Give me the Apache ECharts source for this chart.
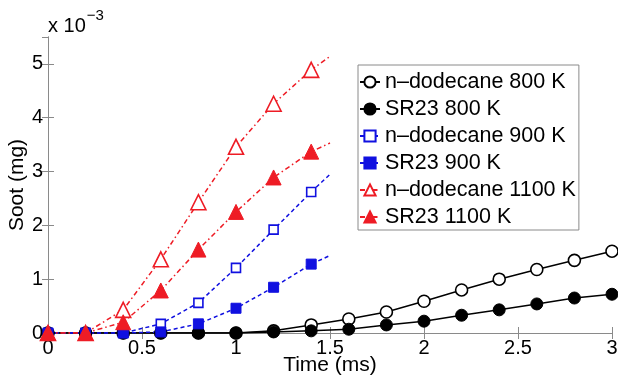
<!DOCTYPE html>
<html>
<head>
<meta charset="utf-8">
<script src="https://cdn.jsdelivr.net/npm/echarts@6/dist/echarts.min.js"></script>
<style>
  html, body { margin: 0; padding: 0; background: #fff; }
  #chart { width: 618px; height: 381px; }
</style>
</head>
<body>
<div id="chart"></div>
<script>
// Soot mass (in units of 1e-3 mg) versus time (ms)
const timeShort = [0, 0.2, 0.4, 0.6, 0.8, 1.0, 1.2, 1.4];
const timeLong = [0, 0.2, 0.4, 0.6, 0.8, 1.0, 1.2, 1.4, 1.6, 1.8, 2.0, 2.2, 2.4, 2.6, 2.8, 3.0];
const fitEndTime = 1.5;

const nDodecane800 = [0, 0, 0, 0, 0, 0, 0.04, 0.15, 0.26, 0.39, 0.59, 0.80, 1.00, 1.18, 1.35, 1.52];
const sr23_800 = [0, 0, 0, 0, 0, 0, 0.02, 0.04, 0.07, 0.15, 0.22, 0.33, 0.43, 0.54, 0.65, 0.72];
const nDodecane900 = [0, 0, 0, 0.17, 0.56, 1.21, 1.92, 2.62];
const sr23_900 = [0, 0, 0, 0.02, 0.17, 0.46, 0.85, 1.28];
const nDodecane1100 = [0, 0, 0.43, 1.37, 2.43, 3.46, 4.26, 4.89];
const sr23_1100 = [0, 0, 0.20, 0.79, 1.55, 2.25, 2.89, 3.37];
// end points of the fitted curves drawn past the last sample
const fitEnd = { nDodecane900: 2.95, sr23_900: 1.44, nDodecane1100: 5.14, sr23_1100: 3.53 };

const xTicks = [0, 0.5, 1, 1.5, 2, 2.5, 3];
const yTicks = [0, 1, 2, 3, 4, 5];

const FONT = 'Liberation Sans, Arial, sans-serif';

function pairs(xs, ys) { return ys.map((v, i) => [xs[i], v]); }
function withFitEnd(xs, ys, endY) {
  const d = pairs(xs, ys);
  d.push({ value: [fitEndTime, endY], symbol: 'none' });
  return d;
}

const dashDot = [5, 3, 1.5, 3];
const dashed = [4, 3];

function mk(name, data, color, lineType, symbol, size, filled) {
  return {
    name, type: 'line', data,
    symbol, symbolSize: size,
    showAllSymbol: true,
    lineStyle: { color, width: 1.5, type: lineType },
    itemStyle: filled
      ? { color, borderColor: color, borderWidth: 1 }
      : { color: '#fff', borderColor: color, borderWidth: 1.6 },
    emphasis: { disabled: true },
    animation: false, z: 3
  };
}

const series = [
  mk('n\u2013dodecane 800 K', pairs(timeLong, nDodecane800), '#000', 'solid', 'circle', 12, false),
  mk('SR23 800 K', pairs(timeLong, sr23_800), '#000', 'solid', 'circle', 12, true),
  mk('n\u2013dodecane 900 K', withFitEnd(timeShort, nDodecane900, fitEnd.nDodecane900), '#1010e0', dashed, 'rect', 9, false),
  mk('SR23 900 K', withFitEnd(timeShort, sr23_900, fitEnd.sr23_900), '#1010e0', dashed, 'rect', 10, true),
  mk('n\u2013dodecane 1100 K', withFitEnd(timeShort, nDodecane1100, fitEnd.nDodecane1100), '#ee1c25', dashDot, 'triangle', 15, false),
  mk('SR23 1100 K', withFitEnd(timeShort, sr23_1100, fitEnd.sr23_1100), '#ee1c25', dashDot, 'triangle', 15, true)
];

const axisGrey = '#8a8a8a';
const fmt = v => String(v);

const chart = echarts.init(document.getElementById('chart'), null, { renderer: 'canvas' });
chart.setOption({
  backgroundColor: '#fff',
  textStyle: { fontFamily: FONT },
  grid: { left: 48, right: 6, top: 37, bottom: 48, containLabel: false, outerBoundsMode: 'none' },
  xAxis: [
    {
      type: 'value', min: 0, max: 3, interval: 0.5,
      name: 'Time (ms)', nameLocation: 'middle', nameGap: 22, nameMoveOverlap: false,
      nameTextStyle: { fontSize: 21, color: '#000', fontFamily: FONT, verticalAlign: 'top' },
      axisLine: { show: true, lineStyle: { color: axisGrey, width: 1 } },
      axisTick: { show: true, inside: true, length: 6, lineStyle: { color: axisGrey } },
      axisLabel: {
        fontSize: 20, color: '#000', margin: 5, fontFamily: FONT,
        formatter: v => xTicks.includes(v) ? fmt(v) : ''
      },
      splitLine: { show: false }
    },
    {
      type: 'value', min: 0, max: 3, interval: 0.5, position: 'top',
      axisLine: { show: true, lineStyle: { color: axisGrey, width: 1 } },
      axisTick: { show: true, inside: true, length: 6, lineStyle: { color: axisGrey } },
      axisLabel: { show: false }, splitLine: { show: false }
    }
  ],
  yAxis: [
    {
      type: 'value', min: 0, max: 5.5, interval: 1,
      name: 'Soot (mg)', nameLocation: 'middle', nameGap: 20, nameRotate: 90, nameMoveOverlap: false,
      nameTextStyle: { fontSize: 21, color: '#000', fontFamily: FONT },
      axisLine: { show: true, lineStyle: { color: axisGrey, width: 1 } },
      axisTick: { show: true, inside: true, length: 6, lineStyle: { color: axisGrey } },
      axisLabel: {
        fontSize: 20, color: '#000', margin: 5, fontFamily: FONT,
        showMaxLabel: false,
        formatter: v => yTicks.includes(v) ? fmt(v) : ''
      },
      splitLine: { show: false }
    },
    {
      type: 'value', min: 0, max: 5.5, interval: 1, position: 'right',
      axisLine: { show: true, lineStyle: { color: axisGrey, width: 1 } },
      axisTick: { show: true, inside: true, length: 6, lineStyle: { color: axisGrey } },
      axisLabel: { show: false }, splitLine: { show: false }
    }
  ],
  legend: {
    orient: 'vertical',
    left: 358, top: 65,
    padding: [6, 3, 2, 1],
    itemWidth: 20, itemHeight: 14, itemGap: 5,
    backgroundColor: '#fff',
    borderColor: axisGrey, borderWidth: 1, borderRadius: 0,
    textStyle: { fontSize: 21.5, lineHeight: 21, color: '#000', fontFamily: FONT },
    selectedMode: false,
    data: series.map(s => s.name)
  },
  graphic: [
    {
      type: 'text', left: 48, top: 8,
      style: {
        text: '{b|x 10}{s|\u22123}',
        rich: {
          b: { fontSize: 20, fontFamily: FONT, fill: '#000', padding: [12, 0, 0, 0] },
          s: { fontSize: 15, fontFamily: FONT, fill: '#000', padding: [0, 0, 10, 1] }
        }
      }
    }
  ],
  series
});
</script>
</body>
</html>
